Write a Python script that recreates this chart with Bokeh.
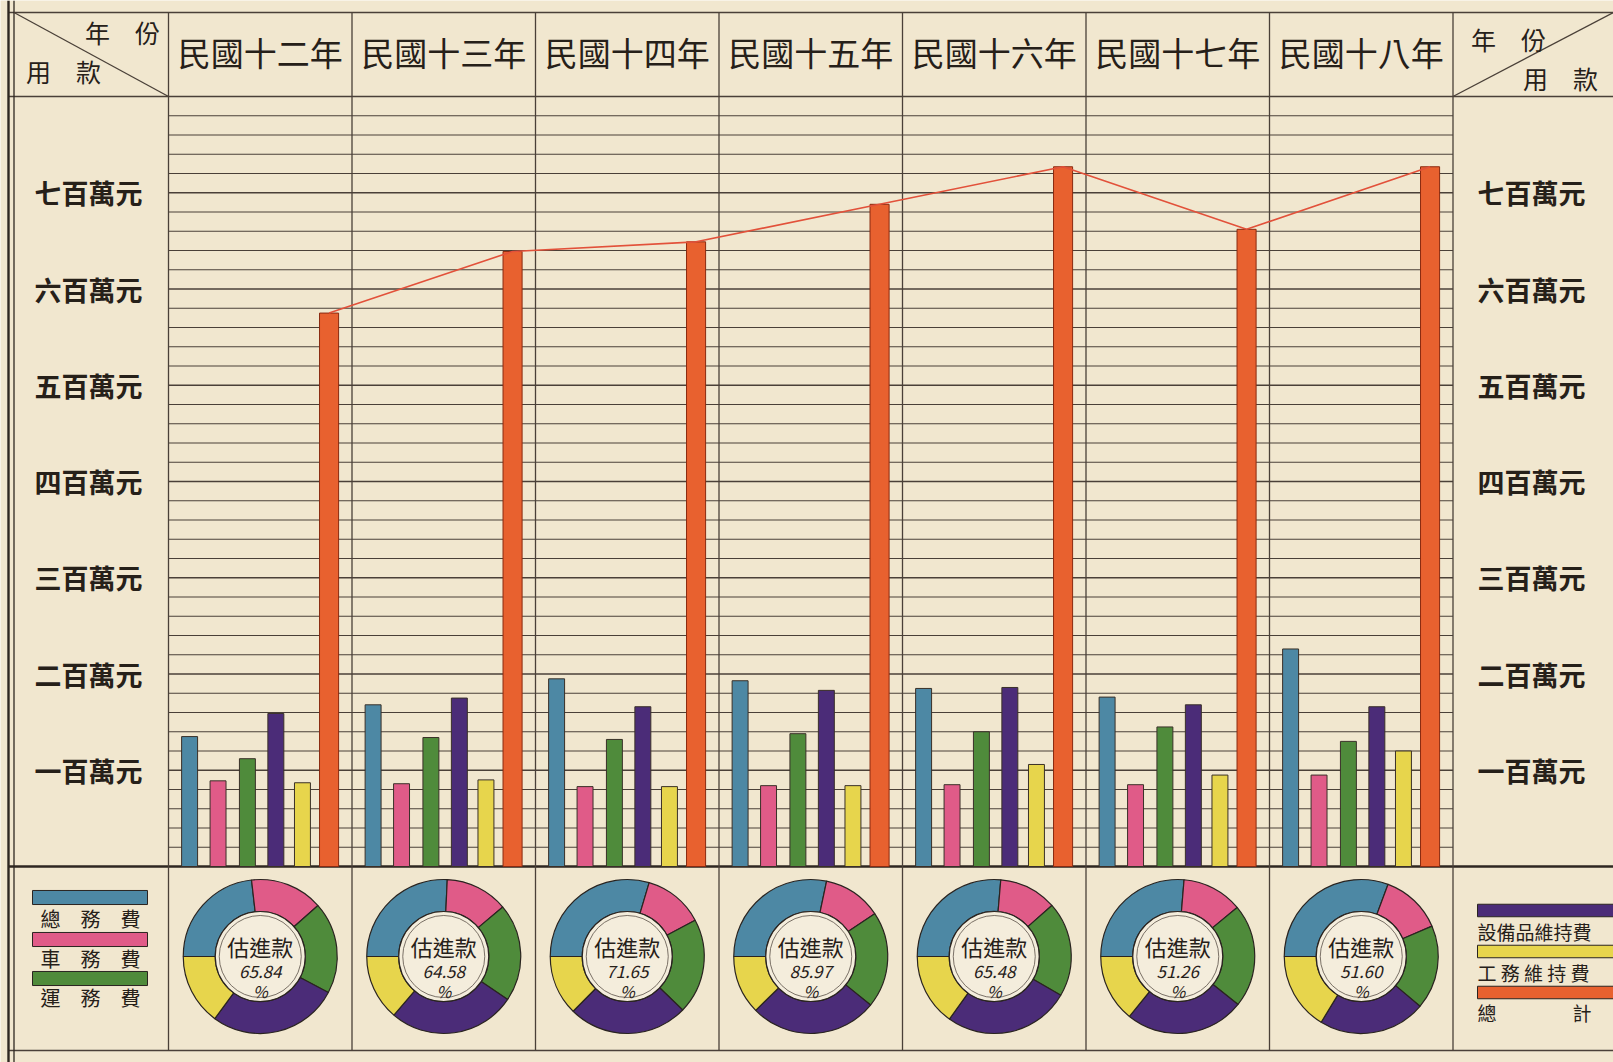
from bokeh.plotting import figure
from bokeh.models import Range1d
from bokeh.embed import file_html
from bokeh.resources import INLINE
from bokeh.core.properties import value
import numpy as np

# ---------------- data (values in 萬元) ----------------
years = ["民國十二年", "民國十三年", "民國十四年", "民國十五年", "民國十六年", "民國十七年", "民國十八年"]
categories = ["總務費", "車務費", "運務費", "設備品維持費", "工務維持費", "總計"]
general = [135, 168, 195, 193, 185, 176, 226]      # 總務費
traffic = [89, 86, 83, 84, 85, 85, 95]             # 車務費
transport = [112, 134, 132, 138, 140, 145, 130]    # 運務費
equipment = [159, 175, 166, 183, 186, 168, 166]    # 設備品維持費
works = [87, 90, 83, 84, 106, 95, 120]             # 工務維持費
total = [575, 639, 649, 688, 727, 662, 727]        # 總計
revenue_pct = ["65.84", "64.58", "71.65", "85.97", "65.48", "51.26", "51.60"]  # 估進款 %
tick_values = [100, 200, 300, 400, 500, 600, 700]
tick_labels = ["一百萬元", "二百萬元", "三百萬元", "四百萬元", "五百萬元", "六百萬元", "七百萬元"]

# ---------------- styles ----------------
PAPER = "#f1e7cf"
INK = "#262019"
LINE = "#4a4038"
COLORS = ["#4d88a4", "#e05b88", "#4f8b3b", "#4b2c78", "#e7d54c", "#e8612f"]
FONT = value("Noto Sans CJK TC")

W, H = 1613, 1062
COLW = 183.5
X0PX = 168.0
ZERO_PX = 196.0
PXU = 0.9625


def ox(px):
    return (px - X0PX) / COLW


def oy(px):
    return (H - px - ZERO_PX) / PXU


p = figure(width=W, height=H, x_range=Range1d(ox(0), ox(W)), y_range=Range1d(oy(H), oy(0)),
           output_backend="svg", toolbar_location=None, min_border=0,
           x_axis_location=None, y_axis_location=None)
p.grid.visible = False
p.outline_line_color = None
p.background_fill_color = PAPER
p.border_fill_color = PAPER

n = len(years)
TOP = oy(12)
BOT = oy(1050)
LEFT = ox(8)
RIGHT = ox(1640)

# horizontal grid in plot area
minor = [v for v in range(20, 800, 20) if v % 100 != 0]
p.segment(x0=[0] * len(minor), x1=[n] * len(minor), y0=minor, y1=minor, line_color=LINE, line_width=1.1)
p.segment(x0=[0] * len(tick_values), x1=[n] * len(tick_values), y0=tick_values, y1=tick_values,
          line_color=LINE, line_width=1.5)

# table frame
p.segment(x0=[LEFT] * 4, x1=[RIGHT] * 4, y0=[TOP, 800, 0, BOT], y1=[TOP, 800, 0, BOT],
          line_color=[LINE, LINE, "#2e2721", LINE], line_width=[1.6, 1.6, 2.6, 1.6])
vx = list(range(n + 1))
p.segment(x0=vx, x1=vx, y0=[BOT] * len(vx), y1=[TOP] * len(vx), line_color=LINE, line_width=1.3)
p.segment(x0=[ox(8), ox(13.5)], x1=[ox(8), ox(13.5)], y0=[oy(H), oy(H)], y1=[oy(0), oy(0)],
          line_color="#2e2721", line_width=[2.4, 1.3])

# corner diagonals
p.segment(x0=[ox(13.5), n], y0=[TOP, 800], x1=[0, ox(1613)], y1=[800, TOP], line_color=LINE, line_width=1.3)

# header texts
p.text(x=[i + 0.5 for i in range(n)], y=[oy(51)] * n, text=years, text_font=FONT, text_font_size="33px",
       text_color=INK, text_align="center", text_baseline="middle")
p.text(x=[ox(122), ox(1508)], y=[oy(31), oy(38)], text=["年　份", "年　份"], text_font=FONT,
       text_font_size="25px", text_color=INK, text_align="center", text_baseline="middle")
p.text(x=[ox(63), ox(1560)], y=[oy(70), oy(77)], text=["用　款", "用　款"], text_font=FONT,
       text_font_size="25px", text_color=INK, text_align="center", text_baseline="middle")

# y labels, both sides
p.text(x=[ox(88)] * len(tick_values), y=tick_values, text=tick_labels, text_font=FONT, text_font_size="27px",
       text_font_style="bold", text_color=INK, text_align="center", text_baseline="middle")
p.text(x=[ox(1531)] * len(tick_values), y=tick_values, text=tick_labels, text_font=FONT, text_font_size="27px",
       text_font_style="bold", text_color=INK, text_align="center", text_baseline="middle")

# bars
series = [general, traffic, transport, equipment, works, total]
offsets = [0.115, 0.27, 0.43, 0.585, 0.73, 0.875]
widths = [0.087, 0.087, 0.087, 0.087, 0.087, 0.104]
for j, s in enumerate(series):
    xs = [i + offsets[j] for i in range(n)]
    p.vbar(x=xs, width=widths[j], bottom=0, top=s, fill_color=COLORS[j],
           line_color="#8a2a10" if j == 5 else "#3a3028", line_width=1.0)

# total trend line
p.line(x=[i + offsets[5] for i in range(n)], y=total, line_color="#e2513a", line_width=1.6)

# donuts
parts = [general, traffic, transport, equipment, works]
cy = oy(956)
for i in range(n):
    vals = np.array([s[i] for s in parts], dtype=float)
    cum = np.concatenate([[0.0], np.cumsum(vals) / vals.sum()])
    starts = np.pi - 2 * np.pi * cum[:-1]
    ends = np.pi - 2 * np.pi * cum[1:]
    p.annular_wedge(x=[i + 0.5] * 5, y=[cy] * 5, inner_radius=45, outer_radius=77,
                    inner_radius_units="screen", outer_radius_units="screen",
                    start_angle=list(starts), end_angle=list(ends), direction="clock",
                    fill_color=COLORS[:5], line_color="#2a2420", line_width=1.2)
cxs = [i + 0.5 for i in range(n)]
p.scatter(x=cxs, y=[cy] * n, size=90, marker="circle", fill_color="#f4eddc", line_color="#2a2420", line_width=1.2)
p.scatter(x=cxs, y=[cy] * n, size=82, marker="circle", fill_color=None, line_color="#5a5048", line_width=0.8)
p.text(x=cxs, y=[oy(945)] * n, text=["估進款"] * n, text_font=FONT, text_font_size="22px", text_color=INK,
       text_align="center", text_baseline="middle")
p.text(x=cxs, y=[oy(971)] * n, text=revenue_pct, text_font=FONT, text_font_size="17px",
       text_font_style="italic", text_color=INK, text_align="center", text_baseline="middle")
p.text(x=cxs, y=[oy(990)] * n, text=["%"] * n, text_font=FONT, text_font_size="16px",
       text_font_style="italic", text_color=INK, text_align="center", text_baseline="middle")

# legends (left)
ly = [oy(897), oy(939), oy(978)]
p.quad(left=[ox(32)] * 3, right=[ox(147)] * 3, bottom=[y - 7.3 for y in ly], top=[y + 7.3 for y in ly],
       fill_color=COLORS[:3], line_color="#2a2420", line_width=1)
p.text(x=[ox(90)] * 3, y=[oy(918), oy(958), oy(997)], text=["總　務　費", "車　務　費", "運　務　費"],
       text_font=FONT, text_font_size="20px", text_color=INK, text_align="center", text_baseline="middle")

# legends (right)
ry = [oy(910), oy(951), oy(992)]
p.quad(left=[ox(1477)] * 3, right=[ox(1640)] * 3, bottom=[y - 6.5 for y in ry], top=[y + 6.5 for y in ry],
       fill_color=[COLORS[3], COLORS[4], COLORS[5]], line_color="#2a2420", line_width=1)
p.text(x=[ox(1477)] * 3, y=[oy(931), oy(972), oy(1012)], text=["設備品維持費", "工 務 維 持 費", "總　　　　計"],
       text_font=FONT, text_font_size="19px", text_color=INK, text_align="left", text_baseline="middle")

open("out.html", "w").write(file_html(p, INLINE))
